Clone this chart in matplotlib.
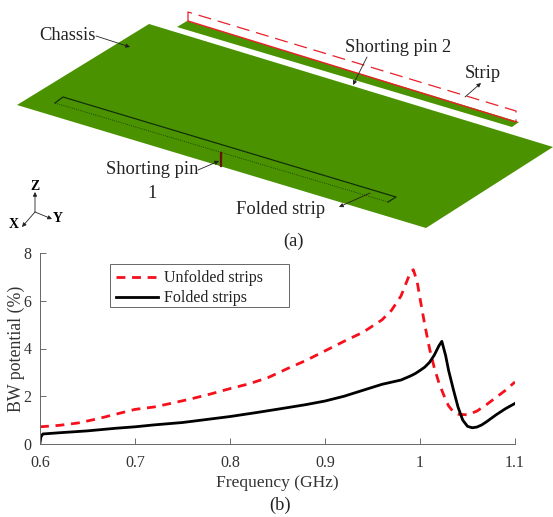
import matplotlib
matplotlib.use("Agg")
import matplotlib.pyplot as plt
from matplotlib.patches import Polygon, Rectangle

plt.rcParams['font.family'] = ['Liberation Serif', 'DejaVu Serif']

# curves
freq_unfolded = [0.6, 0.62, 0.64, 0.66, 0.68, 0.7, 0.72, 0.74, 0.76, 0.78, 0.8, 0.82, 0.84, 0.86, 0.88, 0.9,
                 0.92, 0.94, 0.96, 0.97, 0.98, 0.985, 0.99, 0.993, 0.997, 1.0, 1.005, 1.01, 1.015, 1.02,
                 1.025, 1.03, 1.035, 1.04, 1.05, 1.06, 1.07, 1.08, 1.09, 1.1]
bw_unfolded = [0.72, 0.78, 0.88, 1.05, 1.25, 1.45, 1.55, 1.72, 1.9, 2.1, 2.32, 2.52, 2.78, 3.15, 3.5, 3.9,
               4.3, 4.68, 5.2, 5.6, 6.2, 6.7, 7.2, 7.3, 6.8, 6.1, 5.0, 4.0, 3.2, 2.55,
               2.05, 1.6, 1.35, 1.25, 1.22, 1.38, 1.65, 1.95, 2.25, 2.6]
freq_folded = [0.6, 0.601, 0.603, 0.62, 0.65, 0.68, 0.7, 0.72, 0.75, 0.78, 0.8, 0.83, 0.86, 0.88, 0.9, 0.92,
               0.94, 0.96, 0.98, 0.99, 0.995, 1.0, 1.005, 1.01, 1.015, 1.02, 1.023, 1.027, 1.03, 1.035,
               1.04, 1.045, 1.05, 1.055, 1.06, 1.065, 1.07, 1.08, 1.09, 1.1]
bw_folded = [0.05, 0.3, 0.42, 0.47, 0.55, 0.66, 0.72, 0.8, 0.9, 1.05, 1.15, 1.33, 1.52, 1.65, 1.8, 2.0,
             2.25, 2.5, 2.68, 2.85, 2.95, 3.08, 3.22, 3.42, 3.72, 4.12, 4.3, 3.7, 3.1, 2.3,
             1.55, 1.0, 0.74, 0.68, 0.71, 0.8, 0.93, 1.22, 1.48, 1.7]
x_ticks = [0.6, 0.7, 0.8, 0.9, 1.0, 1.1]
x_tick_labels = ['0.6', '0.7', '0.8', '0.9', '1', '1.1']
y_ticks = [0, 2, 4, 6, 8]

# panel (a) outlines, in picture pixels
chassis = [(149, 24), (17, 105), (426, 228), (553, 147)]
strip = [(177, 27), (187, 21), (519, 122), (512, 127)]
strip_dash = [(188, 21), (188, 12), (516, 111), (516, 122)]
strip_edge = [(188, 21), (516, 122)]
fold_top = [(55, 103), (63, 97), (396, 197), (388, 202)]
fold_low = [(55, 103), (388, 202)]
pin1 = [(221, 153), (221, 166)]

W, H = 553, 517
fig = plt.figure(figsize=(W / 100, H / 100), dpi=100)

# diagram part
ax0 = fig.add_axes([0, 0, 1, 1])
ax0.set_xlim(0, W)
ax0.set_ylim(H, 0)
ax0.axis('off')

ax0.add_patch(Polygon(chassis, closed=True, fc='#4a9200', ec='none'))
ax0.add_patch(Polygon(strip, closed=True, fc='#4a9200', ec='none'))
ax0.plot(*zip(*strip_edge), color='#e8202a', lw=1)
ax0.plot(*zip(*strip_dash), color='#e8202a', lw=0.9, dashes=(10.5, 5.5))
ax0.plot(*zip(*fold_top), color='#12300a', lw=0.9)
ax0.plot(*zip(*fold_low), color='#12300a', lw=0.6, ls=':')
ax0.plot(*zip(*pin1), color='#6b1010', lw=1.6)


def note(txt, xy, xytext, tx, ty):
    ax0.text(tx, ty, txt, fontsize=13.3, ha='center', va='center', color='#222222')
    ax0.annotate('', xy=xy, xytext=xytext,
                 arrowprops=dict(arrowstyle='-|>', color='#222222', lw=0.6, mutation_scale=6, shrinkA=0, shrinkB=0))


note('Chassis', (130, 47), (96, 36), 67, 35)
note('Shorting pin 2', (353, 85), (367, 57), 398, 47)
note('Strip', (481, 83), (465, 97), 483, 73)
note('Shorting pin', (219, 161), (198, 170), 152, 170)
ax0.text(152, 193, '1', fontsize=13.3, ha='center', va='center', color='#222222')
note('Folded strip', (339, 207), (370, 193), 281, 210)

# coordinate triad
note('', (35, 192), (35, 212), 35, 186)
note('', (52, 219), (35, 212), 58, 219)
note('', (22, 227), (35, 212), 14, 225)
ax0.text(35, 186, 'Z', fontsize=10, fontweight='bold', ha='center', va='center')
ax0.text(58, 219, 'Y', fontsize=10, fontweight='bold', ha='center', va='center')
ax0.text(14, 225, 'X', fontsize=10, fontweight='bold', ha='center', va='center')
ax0.text(293, 241, '(a)', fontsize=13.3, ha='center', va='center', color='#222222')
ax0.text(280, 505, '(b)', fontsize=13.3, ha='center', va='center', color='#222222')

# legend frame is wider than its entries
ax0.add_patch(Rectangle((110, 264), 179, 43, fc='white', ec='#666666', lw=0.7))

# chart part
left, right, top, bottom = 40, 515, 253, 444
ax = fig.add_axes([left / W, 1 - bottom / H, (right - left) / W, (bottom - top) / H])
ax.patch.set_alpha(0)
ax.plot(freq_unfolded, bw_unfolded, color='#f5101c', lw=2, dashes=(3.2, 2.4), label='Unfolded strips')
ax.plot(freq_folded, bw_folded, color='black', lw=2, label='Folded strips')
ax.set_xlim(0.6, 1.1)
ax.set_ylim(0, 8)
ax.set_xticks(x_ticks)
ax.set_xticklabels(x_tick_labels)
ax.set_yticks(y_ticks)
ax.tick_params(direction='in', length=4, width=0.6, color='#555555', labelcolor='#333333', labelsize=11.5)
ax.tick_params(axis='x', pad=8)
ax.tick_params(axis='y', pad=6)
ax.spines['top'].set_visible(False)
ax.spines['right'].set_visible(False)
for s in ['left', 'bottom']:
    ax.spines[s].set_color('#666666')
    ax.spines[s].set_linewidth(0.7)
ax.set_xlabel('Frequency (GHz)', fontsize=12.6, color='#333333', labelpad=3)
ax.set_ylabel('BW potential (%)', fontsize=12.8, color='#333333', labelpad=-1)
leg = ax.legend(loc='upper left', bbox_to_anchor=((110 - left) / (right - left), (bottom - 264) / (bottom - top)),
                fontsize=11.5, frameon=False,
                borderaxespad=0, handlelength=2.6, handletextpad=0.35, labelspacing=0.25,
                borderpad=0.4, labelcolor='#222222')

fig.savefig('out.png', dpi=100)
